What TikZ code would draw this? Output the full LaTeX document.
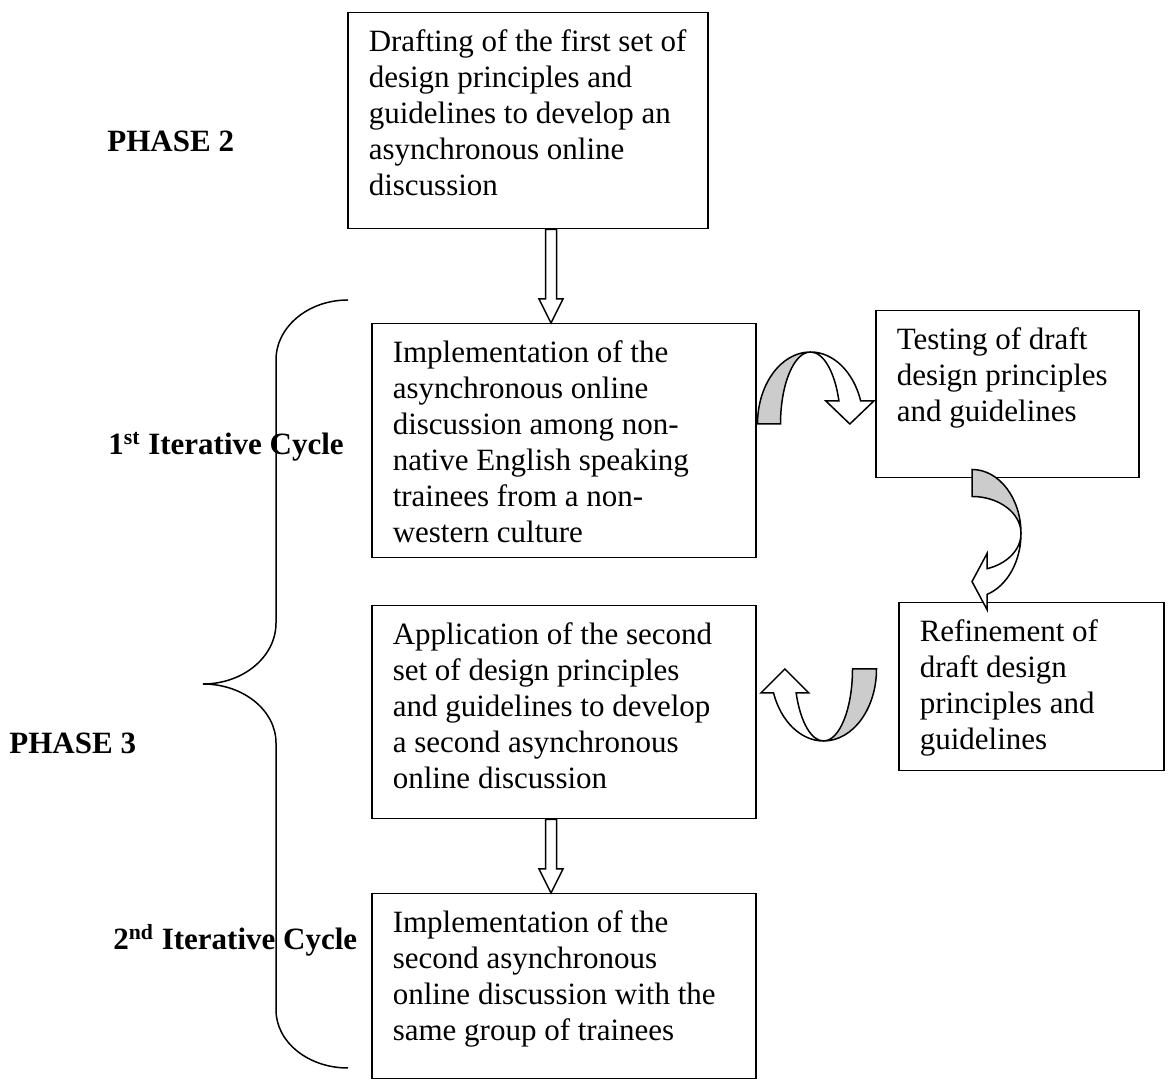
\documentclass[tikz,border=0pt]{standalone}
\usepackage{fontspec}
\setmainfont{Liberation Serif}
\usetikzlibrary{calc}
\definecolor{Shade}{HTML}{CCCCCC}

% box text: width, height, lines
\newcommand{\stagetext}[3]{\parbox[t][#2][t]{#1}{\begin{tabular}[t]{@{}l@{}}#3\end{tabular}}}

% block arrow pointing down, from #1 to #2
\newcommand{\hollowdown}[2]{%
  \draw[hollow] let \p1=(#1), \p2=(#2) in
    (\x1-2.75pt,\y1) -- (\x1-2.75pt,\y2+12pt) -- (\x1-6pt,\y2+12pt) -- (\x1,\y2)
    -- (\x1+6pt,\y2+12pt) -- (\x1+2.75pt,\y2+12pt) -- (\x1+2.75pt,\y1) -- cycle;}

% curved block arrow: centre, rotation, outer, inner, height, head length, head half width
\newcommand{\turnarrow}[7]{%
  \begin{scope}[shift={(#1)}, rotate=#2]
    \pgfmathsetmacro\tang{asin(#6/#5)}
    \pgfmathsetmacro\xout{#3*cos(\tang)}
    \pgfmathsetmacro\xin{#4*cos(\tang)}
    \pgfmathsetmacro\xmid{(\xout+\xin)/2}
    \filldraw[turn, fill=white] (0,#5)
      arc[start angle=90, end angle=\tang, x radius=#3*0.5pt, y radius=#5*0.5pt]
      -- ({\xmid+#7},#6) -- (\xmid,0) -- ({\xmid-#7},#6) -- (\xin,#6)
      arc[start angle=\tang, end angle=90, x radius=#4*0.5pt, y radius=#5*0.5pt] -- cycle;
    \filldraw[turn, fill=Shade] (-#3,0)
      arc[start angle=180, end angle=90, x radius=#3*0.5pt, y radius=#5*0.5pt]
      arc[start angle=90, end angle=180, x radius=#4*0.5pt, y radius=#5*0.5pt] -- cycle;
  \end{scope}}

\begin{document}
\begin{tikzpicture}[
    x=0.5pt, y=0.5pt,
    stage/.style={draw, line width=0.75pt, anchor=north west, inner xsep=10.5pt, inner ysep=7pt, font=\fontsize{15.5}{18}\selectfont},
    phase/.style={anchor=base west, inner sep=0pt, font=\bfseries\fontsize{15.5}{18}\selectfont},
    hollow/.style={line width=0.75pt, fill=white},
    turn/.style={line width=0.75pt},
    brace/.style={line width=0.75pt}
]
\useasboundingbox (0,0) rectangle (1171,1080);

% Boxes
\node[stage] (drafting) at (347,1068) {\stagetext{159pt}{94pt}{Drafting of the first set of\\ design principles and\\ guidelines to develop an\\ asynchronous online\\ discussion}};
\node[stage] (implement) at (371,757) {\stagetext{171pt}{103pt}{Implementation of the\\ asynchronous online\\ discussion among non-\\ native English speaking\\ trainees from a non-\\ western culture}};
\node[stage] (testing) at (875,770) {\stagetext{110.5pt}{69.5pt}{Testing of draft\\ design principles\\ and guidelines}};
\node[stage] (refine) at (898,478) {\stagetext{111.5pt}{70pt}{Refinement of\\ draft design\\ principles and\\ guidelines}};
\node[stage] (apply) at (371,475) {\stagetext{171pt}{92.5pt}{Application of the second\\ set of design principles\\ and guidelines to develop\\ a second asynchronous\\ online discussion}};
\node[stage] (second) at (371,187) {\stagetext{171pt}{78.5pt}{Implementation of the\\ second asynchronous\\ online discussion with the\\ same group of trainees}};

% Labels
\node[phase] (phase2) at (107,928) {PHASE 2};
\node[phase] (cycle1) at (108,625) {1\textsuperscript{st} Iterative Cycle};
\node[phase] (phase3) at (9,326) {PHASE 3};
\node[phase] (cycle2) at (113,130) {2\textsuperscript{nd} Iterative Cycle};

% Brace
\draw[brace] (348,780) arc[start angle=90, end angle=180, x radius=36pt, y radius=30pt]
  -- (276,457) arc[start angle=0, end angle=-90, x radius=36.5pt, y radius=30.5pt]
  arc[start angle=90, end angle=0, x radius=36.5pt, y radius=29.5pt]
  -- (276,70) arc[start angle=180, end angle=270, x radius=36pt, y radius=29pt];

% Straight arrows
\coordinate (drop) at (551,0);
\hollowdown{drafting.south -| drop}{implement.north -| drop}
\hollowdown{apply.south -| drop}{second.north -| drop}

% Curved arrows
\turnarrow{$(implement.north east)+(54,-101)$}{0}{53}{30}{72}{23}{24}
\turnarrow{$(testing.south west)+(97,-55)$}{-90}{64}{37}{49}{15}{28}
\turnarrow{$(apply.north east)+(67,-64)$}{180}{53}{29}{72}{24}{24}

\end{tikzpicture}
\end{document}
